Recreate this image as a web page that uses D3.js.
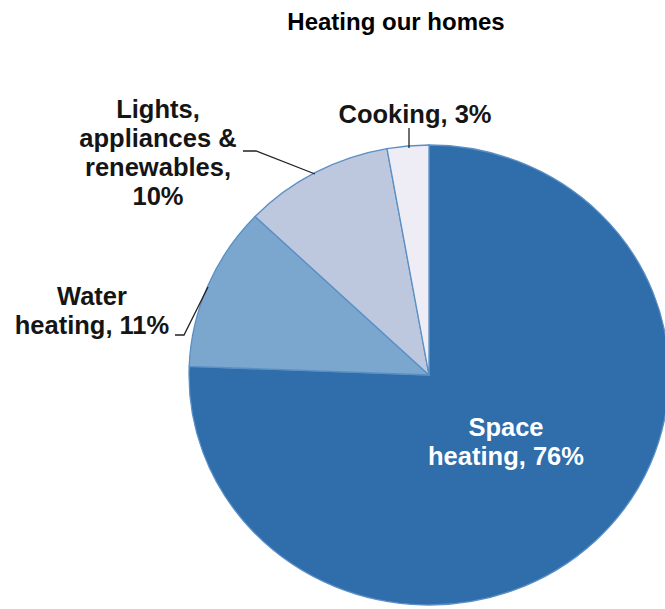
<!DOCTYPE html>
<html><head><meta charset="utf-8">
<script src="https://cdn.jsdelivr.net/npm/d3@7"></script>
<style>body{margin:0;background:#fff}svg{display:block}text{font-family:"Liberation Sans",Arial,sans-serif;font-weight:bold}</style>
</head><body><svg id="c" width="665" height="609"></svg>
<script>
const categories = ["Space heating", "Water heating", "Lights, appliances & renewables", "Cooking"];
const values = [75.6, 11.5, 10.1, 2.8];
const labelLines = [["Space", "heating, 76%"], ["Water", "heating, 11%"], ["Lights,", "appliances &", "renewables,", "10%"], ["Cooking, 3%"]];
const colors = ["#2f6dab", "#7ba6cd", "#bdc8df", "#eeedf5"];
const title = "Heating our homes";

const svg = d3.select("#c");
const cx = 429, cy = 375, ry = 230, rx = 240;

svg.append("text").attr("x", 396).attr("y", 30).attr("text-anchor", "middle")
  .attr("font-size", 24).attr("fill", "#000").text(title);

const pie = d3.pie().sort(null).value(d => d)(values);
const arc = d3.arc().innerRadius(0).outerRadius(ry);
const g = svg.append("g").attr("transform", `translate(${cx},${cy}) scale(${rx/ry},1)`);
g.selectAll("path").data(pie).join("path")
  .attr("d", arc).attr("fill", (d, i) => colors[i])
  .attr("stroke", "#5a8fc6").attr("stroke-width", 1.3).attr("vector-effect", "non-scaling-stroke");

const labelPos = [
  {x: 506, y: 436, fill: "#fff"},
  {x: 92, y: 305, fill: "#151515"},
  {x: 158, y: 118, fill: "#151515"},
  {x: 415, y: 123, fill: "#151515"}
];
const lh = 29;
labelLines.forEach((lines, i) => {
  const t = svg.append("text").attr("text-anchor", "middle").attr("font-size", 25.5)
    .attr("fill", labelPos[i].fill);
  lines.forEach((l, j) => t.append("tspan").attr("x", labelPos[i].x).attr("y", labelPos[i].y + j * lh).text(l));
});

const leaders = [
  [[175, 335], [184, 335], [208, 287]],
  [[243, 151], [256, 151], [315, 174]],
  [[409, 128], [409, 148]]
];
const line = d3.line();
leaders.forEach(p => svg.append("path").attr("d", line(p)).attr("fill", "none")
  .attr("stroke", "#222").attr("stroke-width", 1.3));
</script></body></html>
